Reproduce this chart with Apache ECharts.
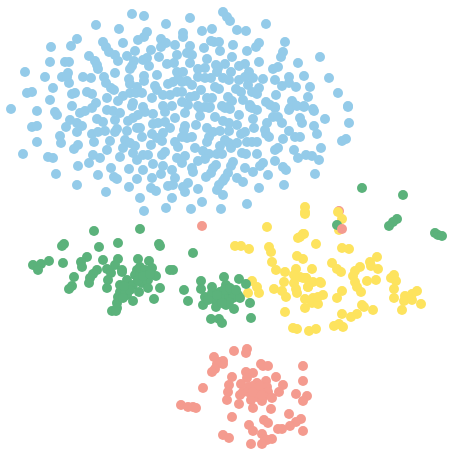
<!DOCTYPE html>
<html>
<head>
<meta charset="utf-8">
<style>
  html, body { margin: 0; padding: 0; background: #fff; }
  #chart { width: 450px; height: 450px; }
</style>
<script src="https://cdn.jsdelivr.net/npm/echarts@6/dist/echarts.min.js"></script>
</head>
<body>
<div id="chart"></div>
<script>
// cluster values, [x, y]
const bluePoints = [
  [132,14],[144,16],[96,25],[119,29],[166,24],[147,32],[144,37],[138,40],[77,39],[71,46],[51,47],[103,42],[106,47],[109,52],[115,55],[118,61],[123,43],[135,51],[127,56],[151,50],[161,39],[166,43],[161,47],[175,45],[177,55],[159,57],[147,58],[143,60],[134,61],[132,66],[130,69],[149,66],[89,56],[95,61],[97,65],[98,69],[50,62],[65,62],[69,62],[115,73],[25,72],[45,77],[62,77],[68,73],[67,77],[69,83],[83,77],[91,78],[104,77],[106,83],[111,88],[114,90],[129,79],[130,84],[144,76],[144,81],[157,75],[168,84],[173,82],[178,79],[177,72],[167,64],[174,63],[53,88],[27,93],[32,92],[72,94],[75,93],[87,92],[92,94],[155,86],[157,90],[137,87],[130,93],[136,93],[142,93],[107,98],[50,100],[96,103],[123,96],[118,101],[133,103],[152,98],[163,95],[170,95],[177,92],
  [190,18],[223,12],[227,17],[230,21],[266,24],[202,31],[212,29],[237,30],[246,31],[183,33],[183,37],[211,41],[214,42],[219,42],[285,42],[259,43],[256,47],[233,45],[190,46],[204,48],[220,51],[247,51],[283,52],[281,57],[187,53],[192,55],[232,57],[320,57],[207,59],[190,63],[259,62],[298,63],[216,65],[225,64],[245,64],[239,66],[278,67],[273,69],[218,68],[198,69],[205,68],[217,72],[231,72],[249,72],[183,72],[304,76],[289,77],[329,78],[198,77],[205,78],[211,78],[223,78],[229,80],[239,80],[245,77],[253,78],[263,79],[275,80],[289,83],[282,86],[296,87],[310,87],[187,81],[192,85],[182,82],[248,85],[259,88],[215,87],[219,89],[201,90],[236,89],[241,92],[252,92],[257,94],[338,93],[276,95],[308,97],[195,96],[190,97],[207,98],[212,98],[228,97],[232,101],[243,100],[292,101],[266,102],[348,106],[270,105],[275,107],[250,105],[295,105],[304,106],[222,106],[228,107],[198,106],[205,107],[210,107],[182,92],[182,102],[188,105],[290,108],[313,109],[252,108],
  [11,109],[37,111],[55,112],[57,115],[72,106],[80,113],[85,111],[92,108],[107,110],[113,111],[120,113],[132,106],[143,107],[145,112],[138,115],[133,118],[128,121],[153,114],[163,106],[172,106],[165,112],[175,118],[70,120],[77,123],[82,126],[66,127],[77,132],[97,119],[103,122],[115,120],[32,127],[37,126],[92,134],[98,132],[105,131],[117,129],[115,132],[127,131],[137,128],[140,128],[153,124],[158,123],[165,122],[170,128],[163,133],[142,137],[60,136],[61,143],[94,142],[110,141],[125,140],[130,143],[135,146],[151,145],[152,134],[157,138],[162,141],[175,142],[178,147],[37,142],[78,145],[74,149],[107,150],[123,148],[133,153],[137,160],[143,155],[148,155],[165,152],[162,155],[23,154],[48,157],[53,158],[93,155],[100,158],[120,157],[177,158],[89,163],[78,166],[111,168],[129,169],[143,170],[153,164],[163,166],[172,170],[56,174],[98,175],[114,177],[117,179],[161,174],[152,178],[137,179],[175,178],[77,185],[129,187],[168,186],[173,185],[151,188],[156,191],[106,192],[172,198],[140,198],[166,208],[144,211],
  [185,113],[200,108],[200,116],[209,108],[215,117],[225,108],[230,109],[239,115],[250,107],[257,110],[253,119],[275,108],[289,110],[297,106],[304,107],[314,111],[348,107],[325,119],[300,118],[302,123],[314,126],[349,123],[273,117],[278,117],[282,123],[267,123],[196,125],[185,126],[184,130],[207,128],[223,121],[229,123],[237,125],[254,128],[265,130],[266,134],[269,137],[289,131],[295,137],[300,137],[317,134],[346,139],[342,141],[283,139],[213,132],[220,131],[209,137],[207,142],[229,131],[241,134],[245,132],[192,137],[187,138],[182,137],[225,140],[229,143],[231,148],[237,143],[220,146],[247,142],[252,142],[257,142],[195,148],[275,150],[278,148],[294,150],[321,148],[203,151],[209,154],[185,156],[217,154],[222,154],[242,153],[246,154],[257,154],[306,155],[312,156],[319,160],[298,158],[275,161],[205,159],[198,161],[182,163],[233,162],[231,166],[263,163],[260,166],[216,165],[213,168],[245,168],[253,172],[283,167],[286,170],[192,168],[193,172],[211,173],[206,177],[228,173],[225,178],[223,181],[268,175],[315,174],[237,178],[243,182],[219,185],[217,190],[188,183],[183,187],[185,192],[198,189],[259,188],[284,185],[223,195],[202,202],[247,204],[191,209],[221,209]
];
const greenPoints = [
  [94,231],[140,229],[64,244],[62,246],[99,247],[118,243],[159,244],[160,246],[33,265],[41,264],[38,270],[49,261],[63,263],[87,257],[81,262],[82,267],[103,260],[118,259],[115,265],[138,259],[149,261],[97,270],[93,274],[90,278],[89,283],[107,269],[111,273],[122,270],[122,272],[74,277],[72,286],[69,289],[108,280],[107,288],[137,270],[140,267],[145,270],[135,275],[152,268],[156,276],[148,280],[127,280],[120,285],[133,285],[142,283],[148,288],[160,288],[139,292],[120,292],[118,297],[127,295],[133,301],[154,299],[117,303],[117,308],[112,311],[170,270],[125,290],[140,275],[116,311],[123,298],[130,290],[138,280],[143,276],[150,274],[124,286],
  [193,253],[173,270],[201,281],[224,277],[239,279],[246,284],[184,290],[201,289],[212,287],[188,301],[205,297],[203,305],[215,300],[216,307],[226,285],[220,292],[227,292],[233,292],[238,295],[225,298],[233,298],[240,298],[226,305],[234,309],[250,303],[211,319],[219,319],[222,323],[251,318],[212,293],[220,298],[224,290],[230,288],[217,295],[236,290],[229,302],[222,303],[208,300],
  [362,188],[403,195],[397,219],[393,222],[389,226],[435,233],[438,235],[442,236],[337,225]
];
const yellowPoints = [
  [267,227],[303,234],[298,238],[235,246],[241,246],[249,249],[269,247],[271,252],[316,244],[297,256],[303,259],[272,262],[276,270],[285,272],[312,269],[296,269],[294,275],[300,277],[306,278],[313,282],[284,282],[252,281],[257,287],[259,293],[248,293],[274,289],[282,291],[294,283],[296,289],[297,293],[308,287],[286,297],[305,299],[313,298],[305,308],[312,303],[318,304],[285,312],[293,328],[297,329],[309,331],[316,329],[320,282],[318,297],
  [305,207],[305,214],[305,212],[338,212],[342,219],[339,230],[304,234],[300,237],[342,248],[349,249],[332,263],[337,269],[341,272],[377,257],[370,262],[371,266],[360,267],[378,269],[355,271],[353,276],[355,282],[357,287],[361,292],[367,281],[376,280],[394,275],[391,278],[396,281],[394,289],[394,298],[417,291],[412,294],[405,296],[404,301],[412,300],[421,304],[402,310],[303,278],[306,278],[308,287],[321,283],[323,295],[337,298],[342,291],[362,305],[364,307],[373,310],[342,314],[357,314],[351,317],[334,326],[339,324],[343,327]
];
const salmonPoints = [
  [202,226],[342,229],
  [234,351],[247,349],[246,353],[214,357],[220,362],[223,361],[223,364],[217,364],[215,369],[212,372],[261,364],[263,366],[268,366],[303,366],[246,372],[253,373],[232,377],[276,377],[247,378],[303,381],[203,388],[229,385],[228,392],[227,400],[241,384],[243,392],[240,395],[249,387],[248,392],[252,395],[257,383],[257,390],[257,397],[262,390],[266,381],[267,387],[268,392],[264,396],[283,385],[279,392],[272,398],[262,401],[251,400],[239,404],[253,408],[271,409],[296,394],[307,396],[303,401],[181,405],[188,407],[193,407],[196,408],[232,417],[289,414],[264,420],[268,423],[301,419],[296,422],[290,426],[282,429],[278,429],[249,425],[253,431],[262,434],[303,431],[223,435],[229,438],[265,439],[272,439],[267,440],[251,444],[262,444],[253,386],[253,392],[260,386],[262,395]
];
// this one sits under the yellow point next to it
const salmonUnder = [[339,211]];

const chart = echarts.init(document.getElementById('chart'));

function scatter(data, color) {
  return {
    type: 'scatter',
    data: data,
    symbolSize: 10,
    itemStyle: { color: color, opacity: 1 },
    silent: true
  };
}

chart.setOption({
  animation: false,
  backgroundColor: '#ffffff',
  grid: { left: 0, right: 0, top: 0, bottom: 0 },
  xAxis: { type: 'value', min: 0, max: 450, show: false },
  yAxis: { type: 'value', min: 0, max: 450, inverse: true, show: false },
  series: [
    scatter(bluePoints, '#94cbe9'),
    scatter(salmonUnder, '#f49b8f'),
    scatter(yellowPoints, '#fde35e'),
    scatter(greenPoints, '#5bb27b'),
    scatter(salmonPoints, '#f49b8f')
  ]
});
</script>
</body>
</html>
